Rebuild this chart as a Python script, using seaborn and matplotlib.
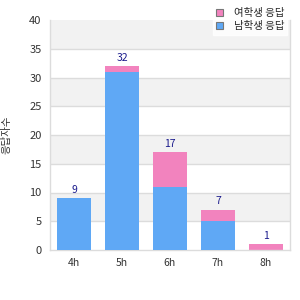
import matplotlib
matplotlib.use("Agg")
import matplotlib.pyplot as plt
import seaborn as sns
import pandas as pd
import numpy as np
from matplotlib.patches import Patch

categories = ["4h", "5h", "6h", "7h", "8h"]
blue_vals = [9, 31, 11, 5, 0]
pink_vals = [0, 1, 6, 2, 1]
legend_labels = ["여학생 응답", "남학생 응답"]
y_label = "응답자수"
y_ticks = [0, 5, 10, 15, 20, 25, 30, 35, 40]

BLUE = "#5FA8F5"
PINK = "#F283BE"

sns.set_style("white")
plt.rcParams['font.family'] = ['Noto Sans CJK KR', 'DejaVu Sans']

totals = [b + p for b, p in zip(blue_vals, pink_vals)]
df = pd.DataFrame({"cat": categories, "blue": blue_vals, "total": totals})

fig = plt.figure(figsize=(3, 3), dpi=100)
ax = fig.add_axes([50/300, 50/300, 240/300, 230/300])

# alternating bands
for i in range(0, 40, 5):
    if (i // 5) % 2 == 1:
        ax.axhspan(i, i + 5, color="#F2F2F2", zorder=0, lw=0)
for t in y_ticks[1:-1]:
    ax.axhline(t, color="#DCDCDC", lw=1, zorder=0.5)

sns.barplot(data=df, x="cat", y="total", color=PINK, width=0.72, ax=ax,
            saturation=1, zorder=2, order=categories, linewidth=0)
sns.barplot(data=df, x="cat", y="blue", color=BLUE, width=0.72, ax=ax,
            saturation=1, zorder=3, order=categories, linewidth=0)

for i, t in enumerate(totals):
    ax.text(i, t + 0.6, str(t), ha="center", va="bottom", fontsize=7.5,
            color="#1A1A8C", zorder=5)

ax.set_xlim(-0.5, 4.5)
ax.set_ylim(0, 40)
ax.set_yticks(y_ticks)
ax.set_yticklabels([str(v) for v in y_ticks], fontsize=8, color="#333333")
ax.set_xticks(range(len(categories)))
ax.set_xticklabels(categories, fontsize=7.5, color="#333333")
ax.tick_params(axis="both", length=0, pad=6)
ax.set_xlabel("")
ax.set_ylabel(y_label, fontsize=7.5, color="#333333", labelpad=8)
ax.yaxis.set_label_coords(-0.16, 0.5)

for s in ["top"]:
    ax.spines[s].set_visible(False)
for s in ["left", "bottom", "right"]:
    ax.spines[s].set_color("#DCDCDC")
    ax.spines[s].set_linewidth(1)

handles = [Patch(facecolor=PINK, edgecolor="#777777", lw=0.8),
           Patch(facecolor=BLUE, edgecolor="#777777", lw=0.8)]
leg = fig.legend(handles, legend_labels, loc="upper right",
                 bbox_to_anchor=(0.975, 1.0), fontsize=7.5, frameon=True,
                 handlelength=0.7, handleheight=0.7, handletextpad=1.0,
                 borderpad=0.3, labelspacing=0.3, fancybox=False)
leg.get_frame().set_edgecolor("white")
leg.get_frame().set_facecolor("white")
leg.set_zorder(10)

fig.savefig("out.png", dpi=100)
